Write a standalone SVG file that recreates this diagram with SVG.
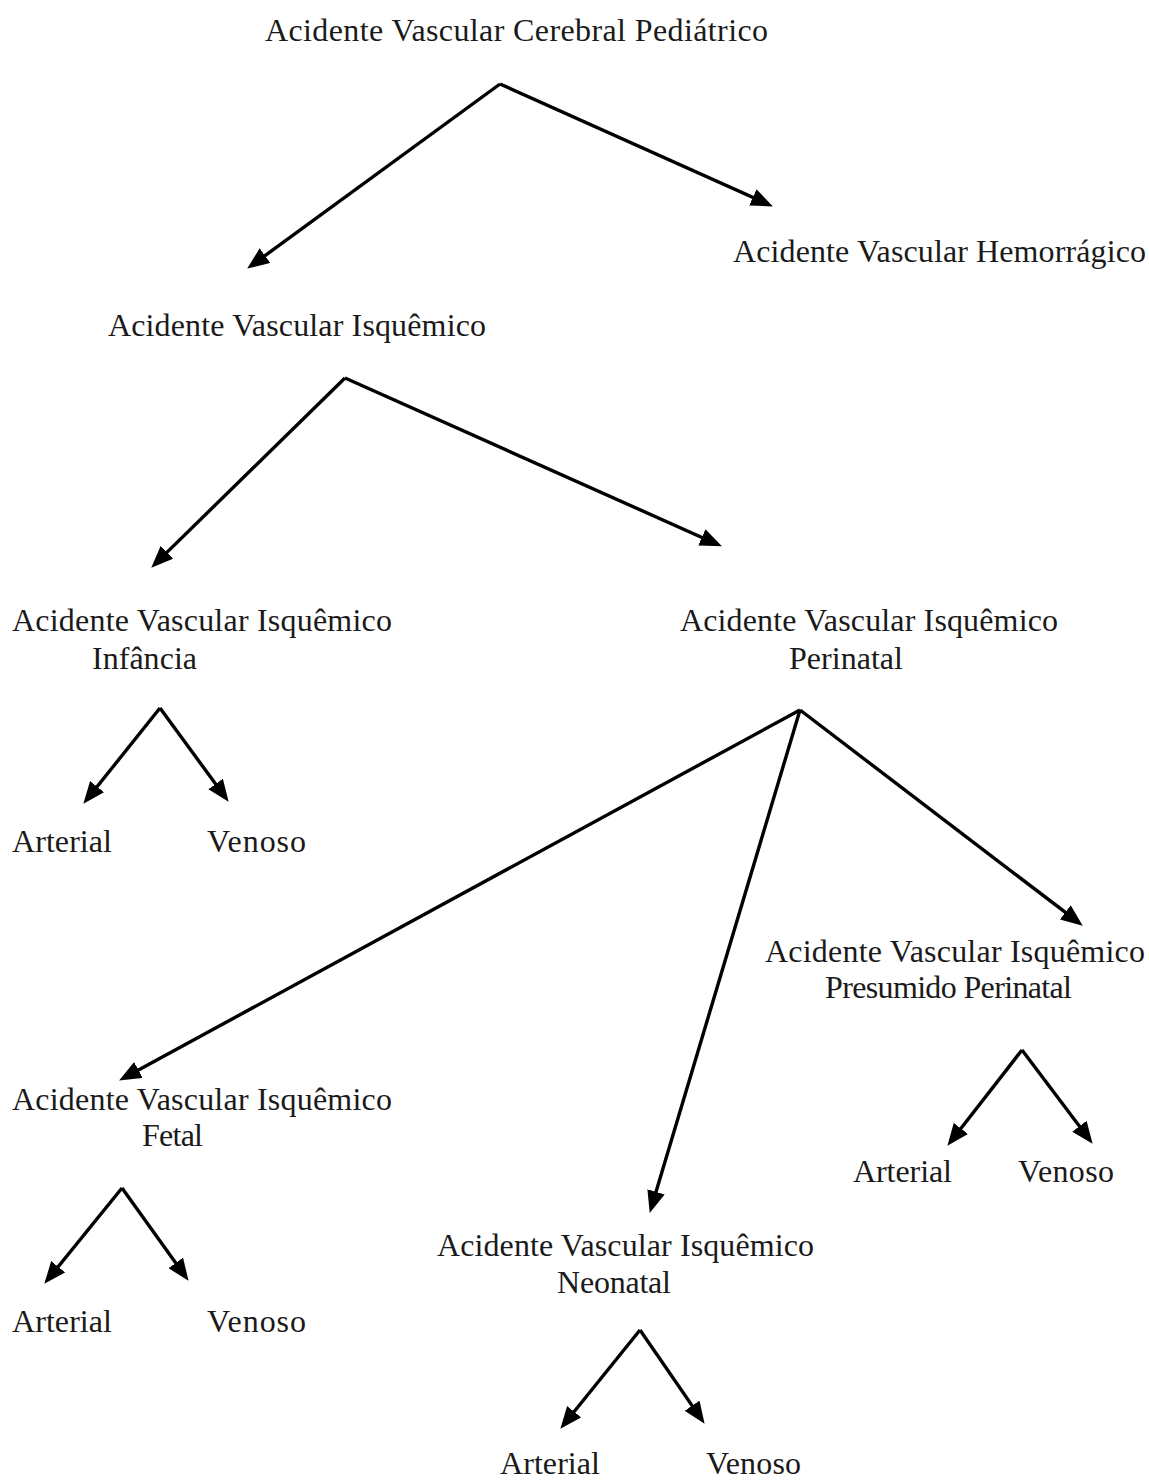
<svg xmlns="http://www.w3.org/2000/svg" width="1149" height="1482" viewBox="0 0 1149 1482">
<style>
text{font-family:"Liberation Serif","Times New Roman",serif;font-size:32px;fill:#1a1a1a}
.c line{stroke:#000;stroke-width:3.4;fill:none;marker-end:url(#ah)}
</style>
<defs>
<marker id="ah" markerUnits="userSpaceOnUse" markerWidth="22" markerHeight="18" refX="13" refY="9" orient="auto">
<path d="M0,0 L22,9 L0,18 z" fill="#000"/>
</marker>
</defs>
<rect width="1149" height="1482" fill="#fff"/>
<g id="n-root"><text x="265" y="41" textLength="503" lengthAdjust="spacing">Acidente Vascular Cerebral Pediátrico</text></g>
<g id="n-hem"><text x="733" y="262" textLength="413" lengthAdjust="spacing">Acidente Vascular Hemorrágico</text></g>
<g id="n-isq"><text x="108" y="336" textLength="378" lengthAdjust="spacing">Acidente Vascular Isquêmico</text></g>
<g id="n-inf"><text x="12" y="631" textLength="380" lengthAdjust="spacing">Acidente Vascular Isquêmico</text><text x="92" y="669" textLength="105" lengthAdjust="spacing">Infância</text></g>
<g id="n-peri"><text x="680" y="631" textLength="378" lengthAdjust="spacing">Acidente Vascular Isquêmico</text><text x="789" y="669" textLength="114" lengthAdjust="spacing">Perinatal</text></g>
<g id="n-inf-art"><text x="12" y="852" textLength="100" lengthAdjust="spacing">Arterial</text></g>
<g id="n-inf-ven"><text x="207" y="852" textLength="99" lengthAdjust="spacing">Venoso</text></g>
<g id="n-pres"><text x="765" y="962" textLength="380" lengthAdjust="spacing">Acidente Vascular Isquêmico</text><text x="825" y="998" textLength="247" lengthAdjust="spacing">Presumido Perinatal</text></g>
<g id="n-pres-art"><text x="853" y="1182" textLength="99" lengthAdjust="spacing">Arterial</text></g>
<g id="n-pres-ven"><text x="1018" y="1182" textLength="96" lengthAdjust="spacing">Venoso</text></g>
<g id="n-fetal"><text x="12" y="1110" textLength="380" lengthAdjust="spacing">Acidente Vascular Isquêmico</text><text x="142" y="1146" textLength="61" lengthAdjust="spacing">Fetal</text></g>
<g id="n-fetal-art"><text x="12" y="1332" textLength="100" lengthAdjust="spacing">Arterial</text></g>
<g id="n-fetal-ven"><text x="207" y="1332" textLength="99" lengthAdjust="spacing">Venoso</text></g>
<g id="n-neo"><text x="437" y="1256" textLength="377" lengthAdjust="spacing">Acidente Vascular Isquêmico</text><text x="557" y="1293" textLength="114" lengthAdjust="spacing">Neonatal</text></g>
<g id="n-neo-art"><text x="500" y="1474" textLength="100" lengthAdjust="spacing">Arterial</text></g>
<g id="n-neo-ven"><text x="706" y="1474" textLength="95" lengthAdjust="spacing">Venoso</text></g>
<g id="connectors" class="c">
<line x1="500" y1="84" x2="254.5" y2="263.3"/>
<line x1="500" y1="84" x2="764.7" y2="202.7"/>
<line x1="345" y1="378" x2="157.7" y2="561.4"/>
<line x1="345" y1="378" x2="713.7" y2="542.7"/>
<line x1="160" y1="708" x2="89" y2="796.8"/>
<line x1="160" y1="708" x2="223.3" y2="794.5"/>
<line x1="800" y1="710" x2="127" y2="1076.2"/>
<line x1="800" y1="710" x2="652.3" y2="1204.3"/>
<line x1="800" y1="710" x2="1075.6" y2="920.2"/>
<line x1="1022" y1="1050" x2="952.9" y2="1138.7"/>
<line x1="1022" y1="1050" x2="1087.2" y2="1136.6"/>
<line x1="122" y1="1188" x2="50" y2="1276.8"/>
<line x1="122" y1="1188" x2="183.3" y2="1273.5"/>
<line x1="640" y1="1330" x2="566" y2="1421.8"/>
<line x1="640" y1="1330" x2="699.5" y2="1416.4"/>
</g>
</svg>
